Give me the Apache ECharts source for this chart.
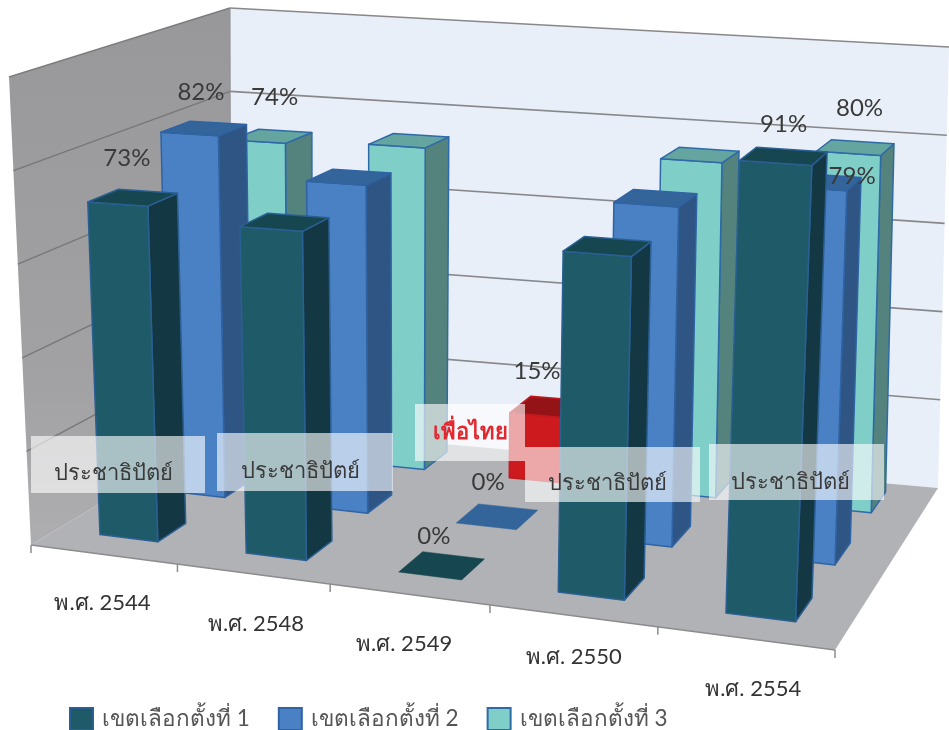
<!DOCTYPE html>
<html><head><meta charset="utf-8">
<style>html,body{margin:0;padding:0;background:#fff}#c{width:949px;height:730px}</style>
<script src="https://cdn.jsdelivr.net/npm/echarts@6/dist/echarts.min.js"></script>
</head><body><div id="c"></div>
<script>
const categories = ['พ.ศ. 2544','พ.ศ. 2548','พ.ศ. 2549','พ.ศ. 2550','พ.ศ. 2554'];
const seriesNames = ['เขตเลือกตั้งที่ 1','เขตเลือกตั้งที่ 2','เขตเลือกตั้งที่ 3'];
const district1 = [73,70,0,70,91];
const district2 = [82,73,0,73,79];
const district3 = [74,75,15,76,80];
const valueTicks = [0,20,40,60,80,100];
const printedLabels = [[1,0,1,0,1],[1,0,1,0,1],[1,0,1,0,1]];
const partyNames = ['ประชาธิปัตย์','ประชาธิปัตย์','เพื่อไทย','ประชาธิปัตย์','ประชาธิปัตย์'];

// layout
const FONT = 'Lato,"Noto Sans","DejaVu Sans","Liberation Sans",sans-serif';
const floorQ = [[31,545],[835,650],[938,488],[231,425]];
const upV = [[-22,-468],[22,-525],[11,-441],[-1,-417]];
const warpMix = 0.55, barScale = 0.98;
const barWidth = 0.40, barDepth = 0.42, rows = 3, rowShift = [.025,.035,.04];
const labelLift = [[[-6,-39],0,[-8,-29],0,[0,-32]],[[-3,-36],0,[-9,-34],0,[32,-5]],[[3,-39],0,[-12,-36],0,[4,-39]]];
const tickNudge = [[-1,48],[3,50],[-5,50],[1,41],[8,51]];
const partyBoxes = [[31,436,174,57,113,473,0],[217,433,176,58,300,471,0],[415,404,110,57,470,432,1],[525,447,175,55,607,483,0],[709,444,175,56,790,482,0]];
const styles = [
 {front:'#1f5a68',side:'#143843',top:'#16464f',line:'#2a5f94'},
 {front:'#4a80c4',side:'#2f5585',top:'#33649a',line:'#2f63a3'},
 {front:'#80cec8',side:'#54827c',top:'#64a5a0',line:'#2f6aa8'}];
const redStyle = {front:'#cc1a1e',side:'#a01216',top:'#941316',line:'#c01a1e'};

function quad(q){
  const [[x0,y0],[x1,y1],[x2,y2],[x3,y3]] = q;
  const dx1=x1-x2,dx2=x3-x2,sx=x0-x1+x2-x3,dy1=y1-y2,dy2=y3-y2,sy=y0-y1+y2-y3;
  const den=dx1*dy2-dx2*dy1, g=(sx*dy2-dx2*sy)/den, h=(dx1*sy-sx*dy1)/den;
  const a=x1-x0+g*x1,b=x3-x0+h*x3,d=y1-y0+g*y1,e=y3-y0+h*y3;
  return (s,t)=>{const w=g*s+h*t+1;return [(a*s+b*t+x0)/w,(d*s+e*t+y0)/w];};
}
function bil(q,s,t){return [0,1].map(k=>(1-t)*((1-s)*q[0][k]+s*q[1][k])+t*((1-s)*q[3][k]+s*q[2][k]));}
const H=quad(floorQ);
function P(s,t,z){
  const a=H(s,t), b=bil(floorQ,s,t), v=bil(upV,s,t);
  return [0,1].map(k=>a[k]*warpMix+b[k]*(1-warpMix)+v[k]*z);
}
function norm(api,params,cat,val){
  const cs=params.coordSys, c=api.coord([cat,val]);
  return {s:(c[0]-cs.x)/cs.width, z:(cs.y+cs.height-c[1])/cs.height, ds:api.size([1,0])[0]/cs.width};
}
function poly(points,fill,line,lw){return {type:'polygon',shape:{points},style:{fill,stroke:line,lineWidth:lw===undefined?1.5:lw,lineJoin:'round'}};}
function line(a,b,c,w){return {type:'line',shape:{x1:a[0],y1:a[1],x2:b[0],y2:b[1]},style:{stroke:c,lineWidth:w}};}
const rowT = r => (r+.5)/rows + rowShift[r];

function barSeries(r,vals){
  return {
    name:seriesNames[r], type:'custom', coordinateSystem:'cartesian2d', z:10+(2-r),
    itemStyle:{color:styles[r].front,borderColor:styles[r].line,borderWidth:2},
    encode:{x:0,y:1},
    data:vals.map((v,i)=>[i,v]),
    renderItem(params,api){
      const i=api.value(0), v=api.value(1), n=norm(api,params,i,v);
      const st=(r===2&&i===2)?redStyle:styles[r];
      const w=n.ds*barWidth/2, t0=rowT(r)-barDepth/2/rows, t1=rowT(r)+barDepth/2/rows;
      const s0=n.s-w,s1=n.s+w,z=n.z*barScale;
      const a=P(s0,t0,0),b=P(s1,t0,0),c=P(s1,t1,0);
      const a2=P(s0,t0,z),b2=P(s1,t0,z),c2=P(s1,t1,z),d2=P(s0,t1,z);
      const kids=[];
      if(v>0){
        kids.push(poly([b,c,c2,b2],st.side,st.line));
        kids.push(poly([a,b,b2,a2],st.front,st.line));
      }
      kids.push(poly([a2,b2,c2,d2],st.top,v>0?st.line:st.top,v>0?1.5:0.5));
      return {type:'group',children:kids};
    }
  };
}
function labelSeries(r,vals){
  return {
    name:'labels'+r, type:'custom', silent:true, z:30, encode:{x:0,y:1},
    data:vals.map((v,i)=>[i,v]),
    renderItem(params,api){
      const i=api.value(0), v=api.value(1);
      if(!printedLabels[r][i]) return null;
      const n=norm(api,params,i,v), m=P(n.s,rowT(r),n.z*barScale), o=labelLift[r][i];
      return {type:'text',x:m[0]+o[0],y:m[1]+o[1],style:{text:v+'%',font:'24px '+FONT,fill:'#3a3a3a',align:'center',verticalAlign:'middle'}};
    }
  };
}

const option = {
  animation:false, backgroundColor:'#fff',
  grid:{left:0,right:0,top:0,bottom:0},
  xAxis:{type:'category',data:categories,show:false},
  yAxis:{type:'value',min:0,max:100,interval:20,show:false},
  legend:{data:seriesNames,left:64,top:702,itemWidth:23,itemHeight:22,itemGap:28,icon:'rect',
    textStyle:{fontFamily:FONT,fontSize:22.5,color:'#555',padding:[0,0,0,4]}},
  graphic:{elements:partyBoxes.flatMap((b,i)=>[
    {type:'rect',z:50,shape:{x:b[0],y:b[1],width:b[2],height:b[3]},style:{fill:'rgba(255,255,255,0.62)'}},
    {type:'text',z:51,x:b[4],y:b[5],style:{text:partyNames[i],font:(b[6]?'bold ':'')+'22px '+FONT,fill:b[6]?'#e02a30':'#3a3a3a',align:'center',verticalAlign:'middle'}}
  ])},
  series:[
    {type:'custom',name:'walls',silent:true,z:1,data:[[0,0]],encode:{x:0,y:1},
     renderItem(params,api){
      const kids=[];
      const A=P(0,0,0),B=P(1,0,0),C=P(1,1,0),D=P(0,1,0),A2=P(0,0,1),C2=P(1,1,1),D2=P(0,1,1);
      kids.push({type:'polygon',shape:{points:[A,D,D2,A2]},style:{fill:{type:'linear',x:0,y:0,x2:0,y2:1,colorStops:[{offset:0,color:'#98989b'},{offset:.7,color:'#a2a2a5'},{offset:1,color:'#aeaeb0'}]}}});
      kids.push({type:'polygon',shape:{points:[D,C,C2,D2]},style:{fill:'#e9eff9'}});
      kids.push({type:'polygon',shape:{points:[A,B,C,D]},style:{fill:'#b1b2b5'}});
      valueTicks.forEach(tv=>{
        const n=norm(api,params,0,tv);
        if(tv>0&&tv<100){
          kids.push(line(P(0,0,n.z),P(0,1,n.z),'#77777a',1.3));
        }
        if(tv>0) kids.push(line(P(0,1,n.z),P(1,1,n.z),'#88888a',1.6));
      });
      kids.push(line(A2,D2,'#7d7d80',1.5));
      kids.push(line(A,B,'#8c8c8e',1.5));
      kids.push(line(D,D2,'#909093',1));
      for(let k=0;k<=categories.length;k++){
        const p=P(k/categories.length,0,0);
        kids.push(line(p,[p[0],p[1]+8],'#8c8c8e',1.5));
      }
      return {type:'group',children:kids};
     }},
    {type:'custom',name:'axisLabels',silent:true,z:2,data:categories.map((c,i)=>[i,0]),encode:{x:0,y:1},
     renderItem(params,api){
      const i=api.value(0), n=norm(api,params,i,0), p=P(n.s,0,0), o=tickNudge[i];
      return {type:'text',x:p[0]+o[0],y:p[1]+o[1],style:{text:categories[i],font:'22px '+FONT,fill:'#333',align:'center',verticalAlign:'middle'}};
     }},
    barSeries(2,district3), barSeries(1,district2), barSeries(0,district1),
    labelSeries(2,district3), labelSeries(1,district2), labelSeries(0,district1)
  ]
};
echarts.init(document.getElementById('c')).setOption(option);
</script></body></html>
